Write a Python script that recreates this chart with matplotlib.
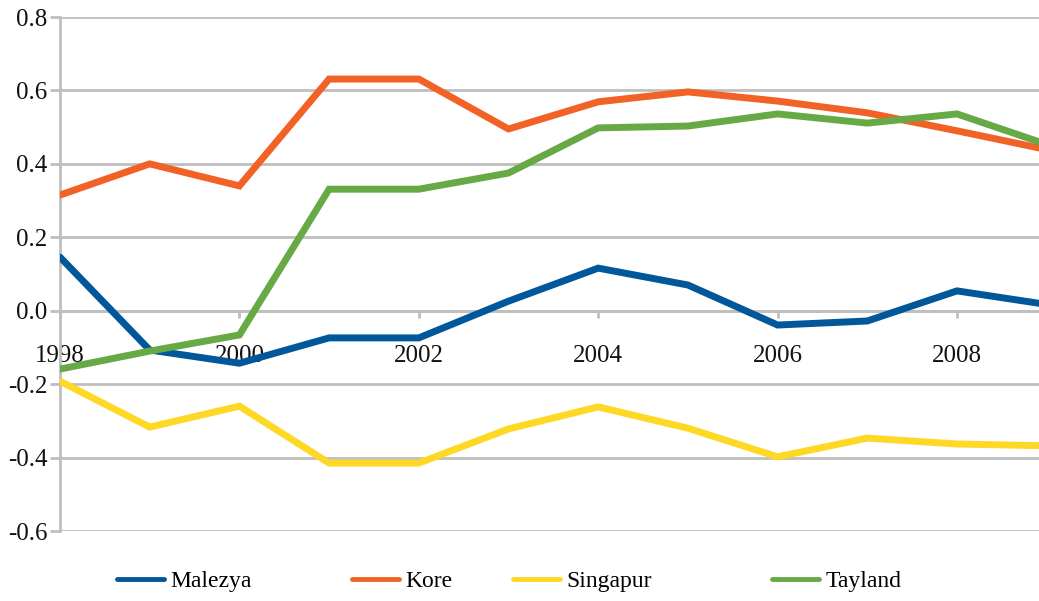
import matplotlib
matplotlib.use('Agg')
import matplotlib.pyplot as plt

years = [1998, 1999, 2000, 2001, 2002, 2003, 2004, 2005, 2006, 2007, 2008, 2009]
malezya = [0.146, -0.107, -0.143, -0.074, -0.074, 0.026, 0.116, 0.070, -0.039, -0.028, 0.054, 0.017]
kore = [0.315, 0.400, 0.340, 0.631, 0.631, 0.495, 0.569, 0.596, 0.571, 0.539, 0.490, 0.439]
singapur = [-0.192, -0.317, -0.260, -0.415, -0.415, -0.322, -0.262, -0.320, -0.398, -0.347, -0.363, -0.368]
tayland = [-0.159, -0.110, -0.066, 0.331, 0.331, 0.375, 0.498, 0.503, 0.536, 0.511, 0.536, 0.453]

names = ['Malezya', 'Kore', 'Singapur', 'Tayland']
series = [malezya, kore, singapur, tayland]
colors = ['#00589b', '#f26125', '#fdd825', '#67aa45']

xticks = [1998, 2000, 2002, 2004, 2006, 2008]
yticks = [-0.6, -0.4, -0.2, 0.0, 0.2, 0.4, 0.6, 0.8]

plt.rcParams['font.family'] = ['Liberation Serif', 'DejaVu Serif']
grid_col = '#bfbfbf'

fig = plt.figure(figsize=(10.39, 6.01), dpi=100)
ax = fig.add_axes([60 / 1039, 1 - 531 / 601, 1 - 60 / 1039, (531 - 17) / 601])

lines = []
for vals, name, col in zip(series, names, colors):
    ln, = ax.plot(years, vals, color=col, lw=5, solid_capstyle='round',
                  solid_joinstyle='miter', label=name, zorder=3)
    lines.append(ln)

ax.set_xlim(1998, 1998 + 979 / 89.7)
ax.set_ylim(-0.6, 0.8)
ax.set_yticks(yticks)
ax.set_yticklabels(['%.1f' % v for v in yticks])
ax.set_xticks(xticks)
ax.set_xticklabels([str(y) for y in xticks])

ax.yaxis.grid(True, color=grid_col, lw=2)
ax.set_axisbelow(True)
for s in ['top', 'right']:
    ax.spines[s].set_visible(False)
ax.spines['bottom'].set_position(('data', 0))
ax.spines['bottom'].set_color(grid_col)
ax.spines['bottom'].set_linewidth(2)
ax.spines['left'].set_color(grid_col)
ax.spines['left'].set_linewidth(2)
ax.tick_params(axis='y', colors=grid_col, length=7, width=2, labelcolor='#111111',
               labelsize=18, pad=2)
ax.tick_params(axis='x', colors=grid_col, length=5, width=2, labelcolor='#111111',
               labelsize=18, pad=20)

# legend entries spread out like the original
leg_x = [117, 352, 513, 772]
for ln, name, lx in zip(lines, names, leg_x):
    lg = fig.legend([ln], [name], loc='center left', bbox_to_anchor=(lx / 1039, 1 - 581 / 601),
                    frameon=False, fontsize=17, handlelength=2.0, handletextpad=0.25,
                    borderaxespad=0, borderpad=0)
    lg.get_lines()[0].set_linewidth(3.5)

fig.savefig('out.png', dpi=100)
